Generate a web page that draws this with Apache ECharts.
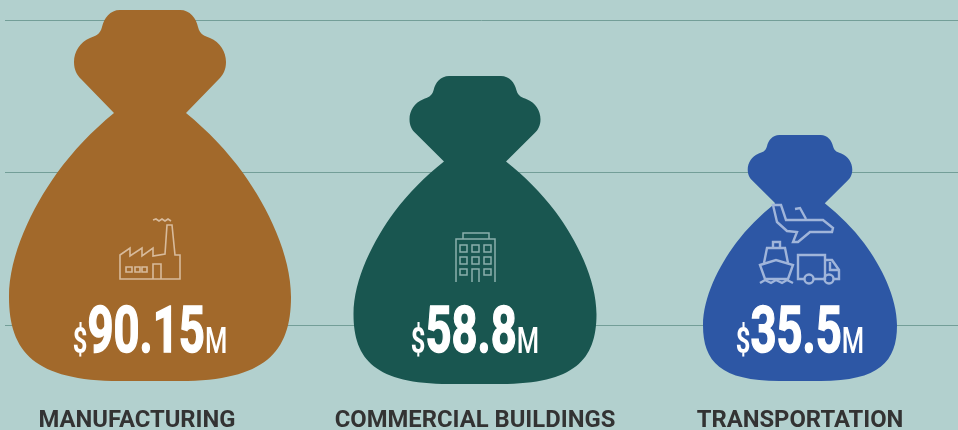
<!DOCTYPE html>
<html>
<head>
<meta charset="utf-8">
<title>Money bags</title>
<script src="https://cdn.jsdelivr.net/npm/echarts@6/dist/echarts.min.js"></script>
<style>
html, body { margin: 0; padding: 0; background: #b2d0ce; }
#chart { width: 958px; height: 430px; }
</style>
</head>
<body>
<div id="chart"></div>
<script>
var categories = ['MANUFACTURING', 'COMMERCIAL BUILDINGS', 'TRANSPORTATION'];
var amounts = ['90.15', '58.8', '35.5'];
// bag sizes, 1 axis unit = 1px
var bagHeights = [371, 308, 246];
var bagWidths = [282, 243, 194];
var bagLift = [-3, 0, -3];
var bagColors = ['#a2692b', '#195650', '#2d57a5'];
var gridValues = [59, 211.5, 364];

var BAG = 'path://M120 10L180 10C190 10 196 18 198 27C200 35 205 36 210 38C220 42 226 52 226 62' +
    'C226 70 223 75 219 79L186 113C208 131 227 151 243 173C268 208 291 255 291 297' +
    'C291 352 265 381 180 381L120 381C35 381 9 352 9 297C9 255 32 208 57 173' +
    'C73 151 92 131 114 113L81 79C77 75 74 70 74 62C74 52 80 42 90 38' +
    'C95 36 100 35 102 27C104 18 110 10 120 10Z';

// icons are straight lines only, so the box can be read from the numbers
var icons = [
    {
        origin: [150, 384], color: '#d8bb9c', width: 1.6,
        paths: [
            'M120 255L130 248L130 256L142 248L142 256L153 248L153 256L165 254L167 225L172 225L175 255L180 255L180 279L120 279Z',
            'M126 267L132 267L132 272L126 272Z',
            'M135 267L140 267L140 272L135 272Z',
            'M142 267L147 267L147 272L142 272Z',
            'M153 279L153 264L161 264L161 279',
            'M153 220L156 219L159 221L162 219L165 221L168 219L171 221'
        ],
        circles: []
    },
    {
        origin: [475, 384], color: '#8bb0ac', width: 1.5,
        paths: [
            'M452 282L499 282',
            'M456 282L456 239L495 239L495 282',
            'M463 239L463 233L489 233L489 239',
            'M460 245L467 245L467 252L460 252Z',
            'M472 245L479 245L479 252L472 252Z',
            'M484 245L491 245L491 252L484 252Z',
            'M460 257L467 257L467 264L460 264Z',
            'M472 257L479 257L479 264L472 264Z',
            'M484 257L491 257L491 264L484 264Z',
            'M460 269L467 269L467 275L460 275Z',
            'M484 269L491 269L491 275L484 275Z',
            'M472 282L472 269L479 269L479 282'
        ],
        circles: []
    },
    {
        origin: [800, 384], color: '#a0b5da', width: 2.4,
        paths: [
            'M773 205L781 205L786 220L823 220L833 228L832 232L810 232L798 242L793 242L797 232L787 231L777 222Z',
            'M795 209L800 208L806 219',
            'M789 224L791 224M794 224L796 224M799 224L801 224M804 224L806 224M809 224L811 224M814 224L816 224',
            'M760 265L776 260L793 265L788 279L765 279Z',
            'M776 260L776 279',
            'M764 263L767 248L785 248L788 263',
            'M773 248L773 242L780 242L780 248',
            'M772 254L782 254',
            'M760 283L765 280L771 283L776 280L782 283L787 280L793 283',
            'M804 279L798 279L798 255L825 255L825 279L814 279',
            'M825 260L832 260L839 270L839 279L834 279',
            'M825 279L824 279',
            'M830 262L830 270L839 270'
        ],
        circles: [[809, 279, 4.5], [829, 279, 4.5]]
    }
];

function iconPart(d, color, width) {
    var nums = d.match(/-?[\d.]+/g).map(Number);
    var xs = nums.filter(function (n, i) { return i % 2 === 0; });
    var ys = nums.filter(function (n, i) { return i % 2 === 1; });
    var x0 = Math.min.apply(null, xs), y0 = Math.min.apply(null, ys);
    return {
        type: 'path',
        shape: {
            pathData: d, layout: 'cover', x: x0, y: y0,
            width: Math.max.apply(null, xs) - x0,
            height: Math.max.apply(null, ys) - y0
        },
        style: { fill: null, stroke: color, lineWidth: width, lineJoin: 'miter' }
    };
}

function drawOverlay(params, api) {
    var i = params.dataIndex;
    var base = api.coord([i, 0]);
    var icon = icons[i];
    var children = icon.paths.map(function (d) {
        return iconPart(d, icon.color, icon.width);
    });
    icon.circles.forEach(function (c) {
        children.push({
            type: 'circle',
            shape: { cx: c[0], cy: c[1], r: c[2] },
            style: { fill: null, stroke: icon.color, lineWidth: icon.width }
        });
    });
    return {
        type: 'group',
        children: [
            { type: 'group', x: base[0] - icon.origin[0], y: base[1] - icon.origin[1], children: children },
            {
                type: 'text',
                x: base[0],
                y: base[1] - 46,
                scaleX: 0.71,
                style: {
                    text: '{d|$}{n|' + amounts[i] + '}{m|M}',
                    align: 'center',
                    verticalAlign: 'middle',
                    fill: '#fff',
                    rich: {
                        d: { fontFamily: 'Roboto', fontWeight: 'bold', fontSize: 36, fill: '#fff', verticalAlign: 'bottom', lineHeight: 60, padding: [0, 0, 6, 0] },
                        n: { fontFamily: 'Roboto', fontWeight: 'bold', fontSize: 64, fill: '#fff', stroke: '#fff', lineWidth: 1.5, verticalAlign: 'bottom', lineHeight: 60 },
                        m: { fontFamily: 'Roboto', fontWeight: 500, fontSize: 36, fill: '#fff', verticalAlign: 'bottom', lineHeight: 60, padding: [0, 0, 6, 0] }
                    }
                }
            }
        ]
    };
}

var chart = echarts.init(document.getElementById('chart'), null, { renderer: 'canvas' });
var option = {
    backgroundColor: '#b2d0ce',
    animation: false,
    grid: [
        { left: 5, right: 0, top: 0, height: 384, outerBoundsMode: 'none' },
        { left: -12.5, width: 975, top: 0, height: 384, outerBoundsMode: 'none' }
    ],
    xAxis: [
        { gridIndex: 0, type: 'category', data: categories, show: false },
        {
            gridIndex: 1,
            type: 'category',
            data: [
                { value: categories[0], textStyle: { padding: [0, 26, 0, 0] } },
                categories[1],
                categories[2]
            ],
            axisLine: { show: false },
            axisTick: { show: false },
            axisLabel: {
                interval: 0,
                margin: 25,
                color: '#333333',
                fontFamily: 'Roboto',
                fontWeight: 'bold',
                fontSize: 23.8
            }
        }
    ],
    yAxis: [
        {
            gridIndex: 0,
            type: 'value',
            min: 0,
            max: 384,
            axisLine: { show: false },
            axisLabel: { show: false },
            axisTick: { show: false, customValues: gridValues },
            splitLine: { show: true, lineStyle: { color: '#739e98', width: 1 } }
        },
        { gridIndex: 1, type: 'value', min: 0, max: 384, show: false }
    ],
    series: [
        {
            type: 'pictorialBar',
            xAxisIndex: 1,
            yAxisIndex: 1,
            symbol: BAG,
            data: bagHeights.map(function (h, i) {
                return {
                    value: h,
                    symbolSize: [bagWidths[i], '100%'],
                    symbolOffset: [0, bagLift[i]],
                    itemStyle: { color: bagColors[i] }
                };
            })
        },
        {
            type: 'custom',
            xAxisIndex: 1,
            yAxisIndex: 1,
            renderItem: drawOverlay,
            data: amounts.map(function (a, i) { return [i, Number(a)]; }),
            z: 5
        }
    ]
};
chart.setOption(option);
</script>
</body>
</html>
